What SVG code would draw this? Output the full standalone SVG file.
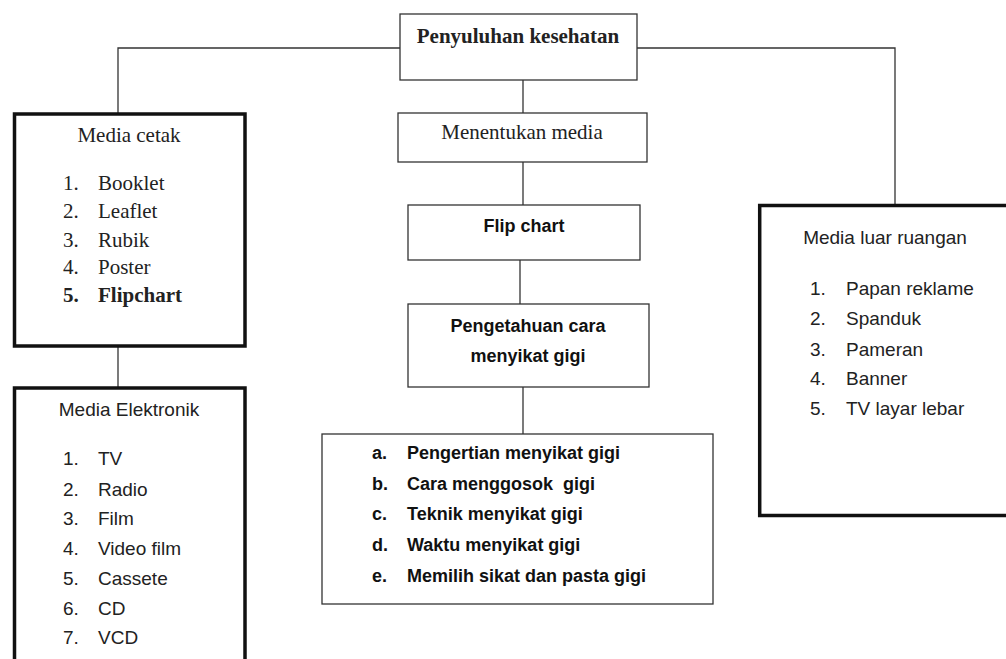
<svg xmlns="http://www.w3.org/2000/svg" width="1006" height="659" viewBox="0 0 1006 659">
<style>
.thin{fill:#fff;stroke:#333;stroke-width:1.3}
.thick{fill:#fff;stroke:#111;stroke-width:3.5}
.ln{fill:none;stroke:#333;stroke-width:1.3}
.serif{font-family:"Liberation Serif","Times New Roman",serif;font-size:21px;fill:#222}
.sans{font-family:"Liberation Sans",Arial,sans-serif;font-size:19px;fill:#222}
.sansb{font-family:"Liberation Sans",Arial,sans-serif;font-size:18px;font-weight:bold;fill:#111}
.b{font-weight:bold}
.mid{text-anchor:middle}
.pre{white-space:pre}
</style>
<rect width="1006" height="659" fill="#fff"/>
<g id="connectors">
<path class="ln" d="M400 48H118V114"/>
<path class="ln" d="M637 48H895V205"/>
<path class="ln" d="M523 80V113"/>
<path class="ln" d="M523 162V205"/>
<path class="ln" d="M520 260V304"/>
<path class="ln" d="M523 387V434"/>
<path class="ln" d="M118 346V388"/>
</g>
<g id="penyuluhan">
<rect class="thin" x="400" y="14" width="237" height="66"/>
<text class="serif b mid" x="518" y="43">Penyuluhan kesehatan</text>
</g>
<g id="menentukan">
<rect class="thin" x="398" y="113" width="249" height="49"/>
<text class="serif mid" x="522" y="139">Menentukan media</text>
</g>
<g id="flipchart">
<rect class="thin" x="408" y="205" width="232" height="55"/>
<text class="sansb mid" x="524" y="232">Flip chart</text>
</g>
<g id="pengetahuan">
<rect class="thin" x="408" y="304" width="241" height="83"/>
<text class="sansb mid" x="528" y="332">Pengetahuan cara</text>
<text class="sansb mid" x="528" y="362">menyikat gigi</text>
</g>
<g id="materi">
<rect class="thin" x="322" y="434" width="391" height="170"/>
<text class="sansb pre" xml:space="preserve"><tspan x="372" y="459">a.</tspan><tspan x="407" y="459">Pengertian menyikat gigi</tspan><tspan x="372" y="490">b.</tspan><tspan x="407" y="490">Cara menggosok  gigi</tspan><tspan x="372" y="520">c.</tspan><tspan x="407" y="520">Teknik menyikat gigi</tspan><tspan x="372" y="551">d.</tspan><tspan x="407" y="551">Waktu menyikat gigi</tspan><tspan x="372" y="582">e.</tspan><tspan x="407" y="582">Memilih sikat dan pasta gigi</tspan></text>
</g>
<g id="media-cetak">
<rect class="thick" x="14.5" y="114" width="230.5" height="232"/>
<text class="serif mid" x="129" y="142">Media cetak</text>
<text class="serif"><tspan x="63" y="190">1.</tspan><tspan x="98" y="190">Booklet</tspan>
<tspan x="63" y="218">2.</tspan><tspan x="98" y="218">Leaflet</tspan>
<tspan x="63" y="247">3.</tspan><tspan x="98" y="247">Rubik</tspan>
<tspan x="63" y="274">4.</tspan><tspan x="98" y="274">Poster</tspan></text>
<text class="serif b"><tspan x="63" y="302">5.</tspan><tspan x="98" y="302">Flipchart</tspan></text>
</g>
<g id="media-elektronik">
<rect class="thick" x="14.5" y="388" width="230.5" height="300"/>
<text class="sans mid" x="129" y="416">Media Elektronik</text>
<text class="sans"><tspan x="63" y="465">1.</tspan><tspan x="98" y="465">TV</tspan>
<tspan x="63" y="496">2.</tspan><tspan x="98" y="496">Radio</tspan>
<tspan x="63" y="525">3.</tspan><tspan x="98" y="525">Film</tspan>
<tspan x="63" y="555">4.</tspan><tspan x="98" y="555">Video film</tspan>
<tspan x="63" y="585">5.</tspan><tspan x="98" y="585">Cassete</tspan>
<tspan x="63" y="615">6.</tspan><tspan x="98" y="615">CD</tspan>
<tspan x="63" y="644">7.</tspan><tspan x="98" y="644">VCD</tspan></text>
</g>
<g id="media-luar-ruangan">
<rect class="thick" x="759.7" y="205.5" width="260" height="310"/>
<text class="sans mid" x="885" y="244">Media luar ruangan</text>
<text class="sans"><tspan x="810" y="295">1.</tspan><tspan x="846" y="295">Papan reklame</tspan>
<tspan x="810" y="325">2.</tspan><tspan x="846" y="325">Spanduk</tspan>
<tspan x="810" y="356">3.</tspan><tspan x="846" y="356">Pameran</tspan>
<tspan x="810" y="385">4.</tspan><tspan x="846" y="385">Banner</tspan>
<tspan x="810" y="415">5.</tspan><tspan x="846" y="415">TV layar lebar</tspan></text>
</g>
</svg>
